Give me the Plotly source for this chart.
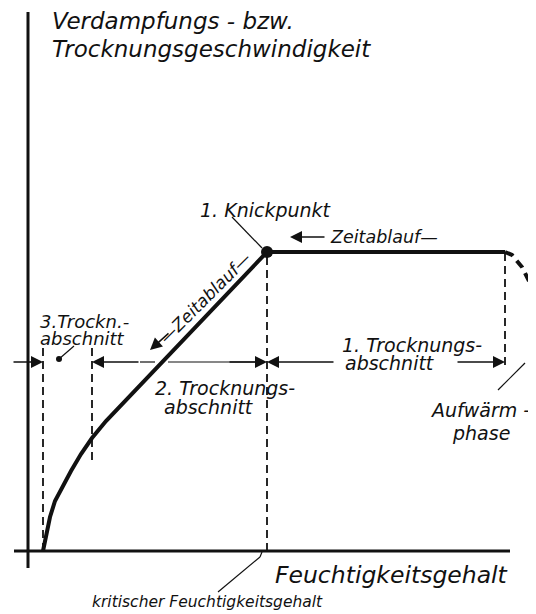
import plotly.graph_objects as go

# ---- data (x: Feuchtigkeitsgehalt, y: Trocknungsgeschwindigkeit; arbitrary units) ----
curve_x = [15, 18, 22, 27, 34, 43, 53, 64, 78, 239]   # 3. + 2. Trocknungsabschnitt
curve_y = [0, 16, 34, 50, 64, 80, 97, 113, 130, 299]
plateau_x = [239, 477]                                # 1. Trocknungsabschnitt
plateau_y = [299, 299]
warm_x = [477, 484, 494, 502, 508]                    # Aufwärmphase
warm_y = [299, 296, 284, 268, 246]

knick_x, knick_y = 239, 299                       # 1. Knickpunkt
x_end = 15                                        # end of drying
x_b23 = 64                                        # boundary 2./3. section
x_crit = 239                                      # kritischer Feuchtigkeitsgehalt
x_warm = 477                                      # end of warm-up phase
dim_y = 189                                       # dimension line level

axis_x_range = [-14, 482]
axis_y_range = [-17, 539]

INK = "#111111"
FONT = "DejaVu Sans"

fig = go.Figure()

def line(xs, ys, w=1.2, dash="solid", shape="linear"):
    fig.add_trace(go.Scatter(x=xs, y=ys, mode="lines",
                             line=dict(color=INK, width=w, dash=dash, shape=shape),
                             hoverinfo="skip", showlegend=False))

# axes
line(axis_x_range, [0, 0], w=3)
line([0, 0], axis_y_range, w=3)

# dashed section borders
DASH = "8px,5px"
line([x_end, x_end], [0, 206], w=1.8, dash=DASH)
line([x_b23, x_b23], [91, 206], w=1.8, dash=DASH)
line([x_crit, x_crit], [0, knick_y], w=1.8, dash=DASH)
line([x_warm, x_warm], [186, knick_y], w=1.8, dash=DASH)

# main curve
line(curve_x, curve_y, w=4)
line(plateau_x, plateau_y, w=4)
line(warm_x, warm_y, w=4, dash="9px,6px")

# knick point
fig.add_trace(go.Scatter(x=[knick_x], y=[knick_y], mode="markers",
                         marker=dict(color=INK, size=12),
                         hoverinfo="skip", showlegend=False))

# leader lines
line([204, 234], [334, 303])       # Knickpunkt
line([470, 497], [161, 188])       # Aufwaermphase
line([190, 232], [-41, -6])        # kritischer Feuchtigkeitsgehalt
line([232, 234], [-6, -1])
line([31, 46], [192, 205])         # 3. Trockn.
fig.add_trace(go.Scatter(x=[31], y=[192], mode="markers",
                         marker=dict(color=INK, size=6),
                         hoverinfo="skip", showlegend=False))

# dimension line pieces
line([112, 127], [dim_y, dim_y])
line([140, 237], [dim_y, dim_y])

ann = []

def arrow(xh, yh, xt, yt, w=1.5, size=1.6):
    ann.append(dict(x=xh, y=yh, ax=xt, ay=yt, xref="x", yref="y",
                    axref="x", ayref="y", text="", showarrow=True,
                    arrowhead=2, arrowsize=size, arrowwidth=w, arrowcolor=INK))

arrow(x_end, dim_y, -16, dim_y)
arrow(x_b23, dim_y, 112, dim_y)
arrow(x_crit, dim_y, 200, dim_y)
arrow(x_crit, dim_y, 307, dim_y)
arrow(x_warm, dim_y, 428, dim_y)
# Zeitablauf arrows
arrow(262, 314, 298, 314)
arrow(122, 201, 142, 219)

def text(x, y, s, size, anchor="left", angle=0):
    ann.append(dict(x=x, y=y, xref="x", yref="y", text=s, showarrow=False,
                    xanchor=anchor, yanchor="middle", textangle=angle,
                    font=dict(family=FONT, size=size, color=INK, style="italic")))

text(22, 530, "Verdampfungs - bzw.", 23)
text(22, 502, "Trocknungsgeschwindigkeit", 23)
text(482, -24, "Feuchtigkeitsgehalt", 23.5, anchor="right")
text(62, -51, "kritischer Feuchtigkeitsgehalt", 15.5)
text(170, 341, "1. Knickpunkt", 19)
text(300, 314, "Zeitablauf—", 17.5)
text(177, 253, "—Zeitablauf—", 17, anchor="center", angle=-45)
text(10, 230, "3.Trockn.-", 18)
text(10, 213, "abschnitt", 18)
text(125, 163, "2. Trocknungs-", 19)
text(134, 144, "abschnitt", 19)
text(312, 206, "1. Trocknungs-", 19)
text(315, 188, "abschnitt", 19)
text(400, 141, "Aufwärm -", 19)
text(422, 118, "phase", 19)

# page body has an 8 px margin: figure is drawn 8 px right/down of the window corner
fig.update_layout(
    width=528, height=606,
    margin=dict(l=0, r=0, t=0, b=0),
    paper_bgcolor="white", plot_bgcolor="white",
    xaxis=dict(range=[-20, 508], visible=False, fixedrange=True),
    yaxis=dict(range=[-63, 543], visible=False, fixedrange=True),
    annotations=ann,
    showlegend=False,
)

fig.write_html("out.html")
